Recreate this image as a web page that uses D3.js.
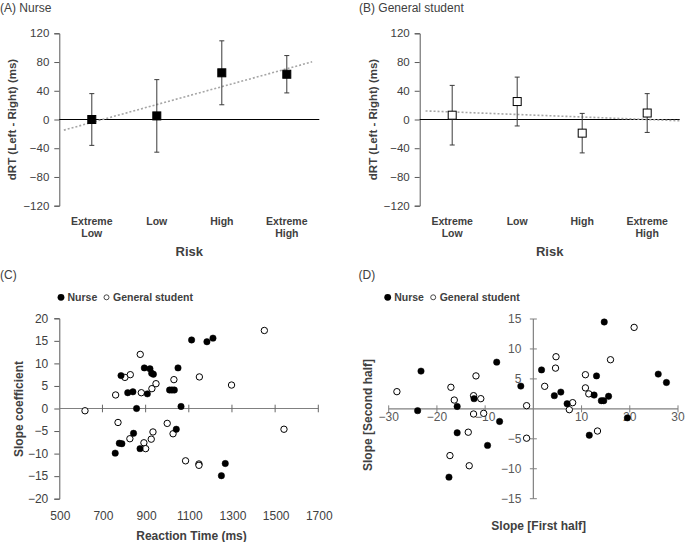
<!DOCTYPE html>
<html><head><meta charset="utf-8">
<script src="https://cdn.jsdelivr.net/npm/d3@7"></script>
<style>body{margin:0;background:#fff}svg{display:block}text{font-family:"Liberation Sans",Arial,sans-serif}</style>
</head><body><svg id="c" width="685" height="542"></svg>
<script>
// ---------- data ----------
const categories = ["Extreme Low", "Low", "High", "Extreme High"];
const nurseMean = [0, 5, 65, 63];
const nurseErr = [36, 50.5, 44.5, 26];
const studentMean = [6, 25, -19, 9];
const studentErr = [41.5, 34, 27.5, 27];
const dTicks = [-120, -80, -40, 0, 40, 80, 120];

const rtTicks = [500, 700, 900, 1100, 1300, 1500, 1700];
const slopeTicks = [-20, -15, -10, -5, 0, 5, 10, 15, 20];
const nurseRT = [786, 817, 841, 894, 920, 928, 936, 908, 858, 1011, 1022, 1033, 1050, 1064, 1113, 1184, 1212, 1042, 844, 778, 790, 759, 874, 1269, 1251];
const nurseSlope = [7.3, 3.5, 3.7, 9.0, 8.8, 7.8, 7.6, 3.25, 0, 4.1, 4.1, 4.1, 9.0, 0.45, 15.2, 14.8, 15.6, -4.6, -5.5, -7.7, -7.8, -9.9, -8.9, -12.2, -14.9];
const studentRT = [619, 761, 772, 804, 829, 875, 880, 929, 948, 934, 926, 827, 892, 900, 1000, 1027, 1031, 1085, 1147, 1147, 1149, 1298, 1450, 1541];
const studentSlope = [-0.5, 3.0, -3.1, 6.9, 7.5, 12.0, 3.5, 4.4, 5.5, -5.2, -6.8, -6.7, -7.6, -8.9, -3.3, -5.6, 6.4, -11.6, -12.3, -12.6, 7.0, 5.2, 17.3, -4.6];

const halfTicksX = [-30, -20, -10, 10, 20, 30];
const halfTicksY = [-15, -10, -5, 5, 10, 15];
const nurseFirst = [-23.3, -24.0, -15.8, -15.8, -17.5, -12.3, -9.5, -7.6, -7.0, -2.6, 1.7, 4.35, 5.7, 7.0, 11.6, 12.6, 13.1, 14.1, 14.6, 14.7, 15.6, 19.5, 25.9, 27.6];
const nurseSecond = [6.3, -0.3, 0.4, -4.0, -11.4, 1.7, -6.1, 7.8, -2.1, 3.8, 6.5, 2.2, 2.8, 0.86, -4.4, 2.3, 5.5, 1.36, 1.36, 14.5, 2.1, -1.5, 5.8, 4.4];
const studentFirst = [-28.3, -17.1, -16.4, -12.4, -11.9, -10.9, -12.4, -10.3, -13.5, -17.3, -13.3, -1.4, -1.4, 2.35, 4.7, 4.6, 7.46, 8.15, 10.8, 10.8, 11.5, 13.3, 16.0, 20.9];
const studentSecond = [2.87, 3.6, 1.47, 2.2, 5.5, 1.7, -0.86, -0.75, -3.9, -7.8, -9.5, 0.53, -4.9, 3.76, 8.7, 6.8, -0.14, 1.03, 5.7, 3.5, 2.5, -3.7, 8.2, 13.6];

const svg = d3.select("#c");
const TXT = "#404040";

// ---------- panels A / B ----------
function linePanel(x0, x1, title, titleX, means, errs, filled, trendSpan) {
  const g = svg.append("g");
  const x = d3.scaleBand().domain(categories).range([x0, x1]);
  const xi = d3.scaleLinear().domain([0.5, 4.5]).range([x0, x1]);
  const y = d3.scaleLinear().domain([-120, 120]).range([205.7, 33.3]);

  g.append("text").attr("x", titleX).attr("y", 12).attr("font-size", 12).attr("fill", TXT).text(title);

  // y axis
  const ya = g.append("g").attr("transform", `translate(${x0},0)`)
    .call(d3.axisLeft(y).tickValues(dTicks).tickSize(5).tickPadding(5));
  ya.select(".domain").attr("stroke", "#595959");
  ya.selectAll(".tick line").attr("stroke", "#595959");
  ya.selectAll("text").attr("font-size", 11.5).attr("fill", TXT).attr("font-family", '"Liberation Sans",Arial,sans-serif');

  // zero line
  g.append("line").attr("x1", x0).attr("x2", x1).attr("y1", y(0)).attr("y2", y(0)).attr("stroke", "#000").attr("stroke-width", 1.2);

  // trendline (least squares on the plotted means)
  const xs = means.map((d, i) => i + 1);
  const mx = d3.mean(xs), my = d3.mean(means);
  const slope = d3.sum(xs.map((v, i) => (v - mx) * (means[i] - my))) / d3.sum(xs.map(v => (v - mx) ** 2));
  const icpt = my - slope * mx;
  g.append("line")
    .attr("x1", xi(trendSpan[0])).attr("y1", y(icpt + slope * trendSpan[0]))
    .attr("x2", xi(trendSpan[1])).attr("y2", y(icpt + slope * trendSpan[1]))
    .attr("stroke", "#a6a6a6").attr("stroke-width", 1.6).attr("stroke-dasharray", "2,2");

  // error bars
  categories.forEach((c, i) => {
    const cx = x(c) + x.bandwidth() / 2;
    g.append("line").attr("x1", cx).attr("x2", cx).attr("y1", y(means[i] + errs[i])).attr("y2", y(means[i] - errs[i])).attr("stroke", "#3a3a3a").attr("stroke-width", 1);
    [means[i] + errs[i], means[i] - errs[i]].forEach(v => {
      g.append("line").attr("x1", cx - 2.5).attr("x2", cx + 2.5).attr("y1", y(v)).attr("y2", y(v)).attr("stroke", "#3a3a3a").attr("stroke-width", 1);
    });
    g.append("rect").attr("x", cx - 4).attr("y", y(means[i]) - 4).attr("width", 8).attr("height", 8)
      .attr("fill", filled ? "#000" : "#fff").attr("stroke", "#000").attr("stroke-width", 1);
    const lines = c.split(" ");
    lines.forEach((t, k) => {
      g.append("text").attr("x", cx).attr("y", 224.5 + k * 12.7).attr("text-anchor", "middle")
        .attr("font-size", 10.5).attr("font-weight", "bold").attr("fill", TXT).text(t);
    });
  });

  g.append("text").attr("x", (x0 + x1) / 2).attr("y", 255.5).attr("text-anchor", "middle")
    .attr("font-size", 13).attr("font-weight", "bold").attr("fill", TXT).text("Risk");
  g.append("text").attr("transform", `translate(${x0 - 43},${y(0)}) rotate(-90)`).attr("text-anchor", "middle")
    .attr("font-size", 11.5).attr("font-weight", "bold").attr("fill", TXT).text("dRT (Left - Right) (ms)");
}
linePanel(59.3, 319.3, "(A) Nurse", 0, nurseMean, nurseErr, true, [0.57, 4.39]);
linePanel(419.7, 679.7, "(B) General student", 359, studentMean, studentErr, false, [0.59, 4.52]);

// ---------- legend helper ----------
function legend(g, x, y) {
  g.append("circle").attr("cx", x).attr("cy", y).attr("r", 3.4).attr("fill", "#000");
  g.append("text").attr("x", x + 6.5).attr("y", y + 3.8).attr("font-size", 10.5).attr("font-weight", "bold").attr("fill", TXT).text("Nurse");
  g.append("circle").attr("cx", x + 45.5).attr("cy", y).attr("r", 2.5).attr("fill", "#fff").attr("stroke", "#333").attr("stroke-width", 0.9);
  g.append("text").attr("x", x + 52).attr("y", y + 3.8).attr("font-size", 10.5).attr("font-weight", "bold").attr("fill", TXT).text("General student");
}

function dots(g, xs, ys, x, y, filled) {
  g.selectAll(null).data(xs).enter().append("circle")
    .attr("cx", d => x(d)).attr("cy", (d, i) => y(ys[i])).attr("r", 3.2)
    .attr("fill", filled ? "#000" : "#fff").attr("stroke", "#000").attr("stroke-width", filled ? 0.5 : 1);
}

// ---------- panel C ----------
{
  const g = svg.append("g");
  const x = d3.scaleLinear().domain([500, 1700]).range([59.3, 318.3]);
  const y = d3.scaleLinear().domain([-20, 20]).range([498.7, 318.3]);
  g.append("text").attr("x", 0).attr("y", 279).attr("font-size", 12).attr("fill", TXT).text("(C)");
  legend(g, 61, 297.3);

  const ya = g.append("g").attr("transform", `translate(${x(500)},0)`)
    .call(d3.axisLeft(y).tickValues(slopeTicks).tickSize(5).tickPadding(6));
  ya.select(".domain").attr("stroke", "#595959");
  ya.selectAll(".tick line").attr("stroke", "#595959");
  ya.selectAll("text").attr("font-size", 12).attr("fill", TXT).attr("font-family", '"Liberation Sans",Arial,sans-serif');

  // x axis at zero with crossing ticks
  g.append("line").attr("x1", x(500)).attr("x2", x(1700)).attr("y1", y(0)).attr("y2", y(0)).attr("stroke", "#808080").attr("stroke-width", 1.2);
  rtTicks.slice(1).forEach(t => {
    g.append("line").attr("x1", x(t)).attr("x2", x(t)).attr("y1", y(0) - 3.8).attr("y2", y(0) + 3.8).attr("stroke", "#666").attr("stroke-width", 1);
  });
  rtTicks.forEach(t => {
    g.append("text").attr("x", x(t) + 1).attr("y", 519.5).attr("text-anchor", "middle").attr("font-size", 12).attr("fill", TXT).text(t);
  });

  dots(g, studentRT, studentSlope, x, y, false);
  dots(g, nurseRT, nurseSlope, x, y, true);

  g.append("text").attr("x", 191.5).attr("y", 540).attr("text-anchor", "middle").attr("font-size", 12).attr("font-weight", "bold").attr("fill", TXT).text("Reaction Time (ms)");
  g.append("text").attr("transform", `translate(22.5,409) rotate(-90)`).attr("text-anchor", "middle").attr("font-size", 12).attr("font-weight", "bold").attr("fill", TXT).text("Slope coefficient");
}

// ---------- panel D ----------
{
  const g = svg.append("g");
  const x = d3.scaleLinear().domain([-30, 30]).range([388.7, 678]);
  const y = d3.scaleLinear().domain([-15, 15]).range([498.7, 319]);
  const C = "#808080", LBL = "#595959";
  g.append("text").attr("x", 358.5).attr("y", 279).attr("font-size", 12).attr("fill", TXT).text("(D)");
  legend(g, 387.7, 297.3);

  g.append("line").attr("x1", x(-30)).attr("x2", x(30)).attr("y1", y(0)).attr("y2", y(0)).attr("stroke", C).attr("stroke-width", 1.2);
  g.append("line").attr("x1", x(0)).attr("x2", x(0)).attr("y1", y(-15)).attr("y2", y(15)).attr("stroke", C).attr("stroke-width", 1.2);
  halfTicksX.forEach(t => {
    g.append("line").attr("x1", x(t)).attr("x2", x(t)).attr("y1", y(0) - 3.5).attr("y2", y(0) + 3.5).attr("stroke", C);
    g.append("text").attr("x", x(t)).attr("y", 420.5).attr("text-anchor", "middle").attr("font-size", 12).attr("fill", LBL).text(d3.format("")(t).replace("-", "\u2212"));
  });
  halfTicksY.forEach(t => {
    g.append("line").attr("x1", x(0) - 3.5).attr("x2", x(0) + 3.5).attr("y1", y(t)).attr("y2", y(t)).attr("stroke", C);
    g.append("text").attr("x", x(0) - 12).attr("y", y(t) + 4.2).attr("text-anchor", "end").attr("font-size", 12).attr("fill", LBL).text(String(t).replace("-", "\u2212"));
  });

  dots(g, studentFirst, studentSecond, x, y, false);
  dots(g, nurseFirst, nurseSecond, x, y, true);

  g.append("text").attr("x", 538.7).attr("y", 529.5).attr("text-anchor", "middle").attr("font-size", 12).attr("font-weight", "bold").attr("fill", TXT).text("Slope [First half]");
  g.append("text").attr("transform", `translate(371.5,415) rotate(-90)`).attr("text-anchor", "middle").attr("font-size", 12).attr("font-weight", "bold").attr("fill", TXT).text("Slope [Second half]");
}
</script></body></html>
